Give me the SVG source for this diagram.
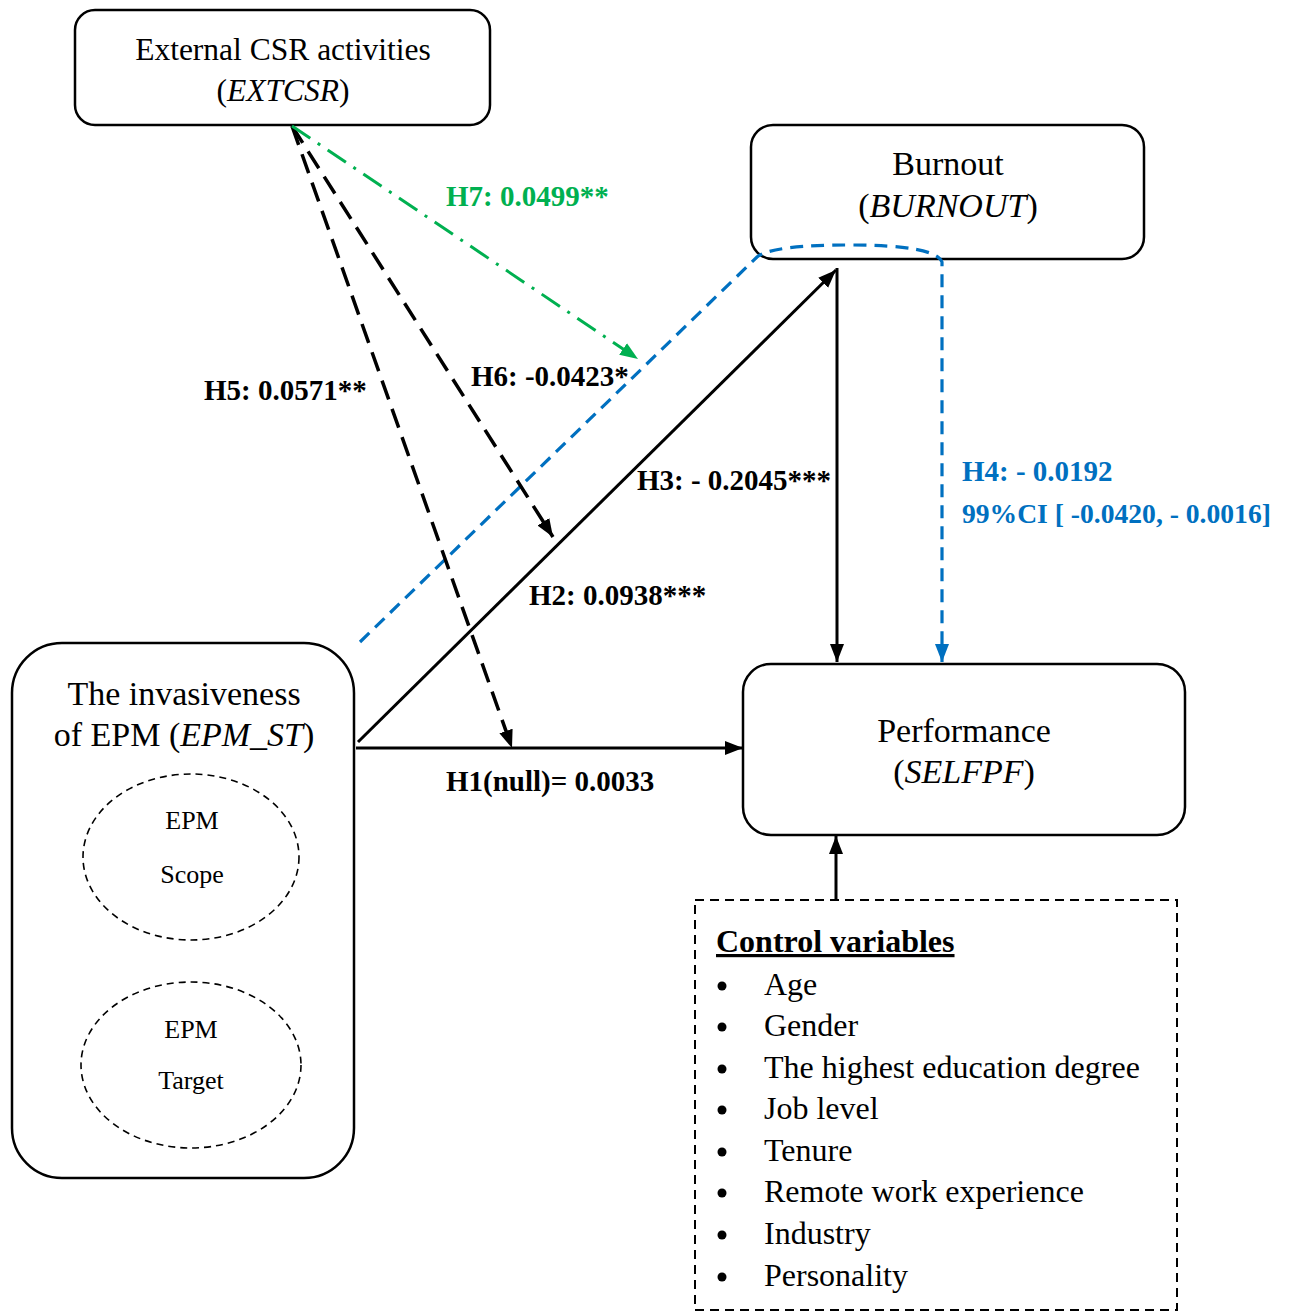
<svg xmlns="http://www.w3.org/2000/svg" width="1291" height="1313" viewBox="0 0 1291 1313">
  <style>
    .box { fill: #ffffff; stroke: #000000; stroke-width: 2.5; }
    .node-text { font-family: "Liberation Serif", "Times New Roman", serif; font-size: 34px; fill: #000000; text-anchor: middle; }
    .node-text.small { font-size: 31.5px; }
    .sub-text { font-family: "Liberation Serif", "Times New Roman", serif; font-size: 26px; fill: #000000; text-anchor: middle; }
    .dim { fill: none; stroke: #000000; stroke-width: 1.6; stroke-dasharray: 7 5; }
    .label { font-family: "Liberation Serif", "Times New Roman", serif; font-size: 29px; font-weight: bold; fill: #000000; }
    .label.ci { font-size: 27.6px; }
    .green { fill: #00B050; }
    .blue { fill: #0070C0; }
    .solid { fill: none; stroke: #000000; stroke-width: 3; }
    .dashed { fill: none; stroke: #000000; stroke-width: 3.5; stroke-dasharray: 20 10; }
    .dashdot { fill: none; stroke: #00B050; stroke-width: 3; stroke-dasharray: 22 9 3 9; }
    .bluedash { fill: none; stroke: #0070C0; stroke-width: 3.2; stroke-dasharray: 13 8; }
    .ctrl { font-family: "Liberation Serif", "Times New Roman", serif; font-size: 32px; fill: #000000; }
  </style>
  <defs>
    <marker id="arrow-black" markerUnits="userSpaceOnUse" markerWidth="20" markerHeight="16" refX="18" refY="7" orient="auto">
      <path d="M0,0 L18,7 L0,14 Z" fill="#000000"/>
    </marker>
    <marker id="arrow-green" markerUnits="userSpaceOnUse" markerWidth="20" markerHeight="16" refX="18" refY="7" orient="auto">
      <path d="M0,0 L18,7 L0,14 Z" fill="#00B050"/>
    </marker>
    <marker id="arrow-blue" markerUnits="userSpaceOnUse" markerWidth="20" markerHeight="16" refX="18" refY="7" orient="auto">
      <path d="M0,0 L18,7 L0,14 Z" fill="#0070C0"/>
    </marker>
  </defs>

  <rect width="1291" height="1313" fill="#ffffff"/>

  <!-- External CSR activities -->
  <g id="node-extcsr">
    <rect class="box" x="75" y="10" width="415" height="115" rx="20"/>
    <text class="node-text small" x="283" y="60">External CSR activities</text>
    <text class="node-text small" x="283" y="101">(<tspan font-style="italic">EXTCSR</tspan>)</text>
  </g>

  <!-- Burnout -->
  <g id="node-burnout">
    <rect class="box" x="751" y="125" width="393" height="134" rx="22"/>
    <text class="node-text" x="948" y="175">Burnout</text>
    <text class="node-text" x="948" y="217">(<tspan font-style="italic">BURNOUT</tspan>)</text>
  </g>

  <!-- Performance -->
  <g id="node-performance">
    <rect class="box" x="743" y="664" width="442" height="171" rx="28"/>
    <text class="node-text" x="964" y="742">Performance</text>
    <text class="node-text" x="964" y="783">(<tspan font-style="italic">SELFPF</tspan>)</text>
  </g>

  <!-- Invasiveness of EPM with its two dimensions -->
  <g id="node-epm">
    <rect class="box" x="12" y="643" width="342" height="535" rx="50"/>
    <text class="node-text" x="184" y="705">The invasiveness</text>
    <text class="node-text" x="184" y="746">of EPM (<tspan font-style="italic">EPM_ST</tspan>)</text>
    <ellipse class="dim" cx="191" cy="857" rx="108" ry="83"/>
    <text class="sub-text" x="192" y="829">EPM</text>
    <text class="sub-text" x="192" y="883">Scope</text>
    <ellipse class="dim" cx="191" cy="1065" rx="110" ry="83"/>
    <text class="sub-text" x="191" y="1038">EPM</text>
    <text class="sub-text" x="191" y="1089">Target</text>
  </g>

  <!-- Control variables -->
  <g id="node-controls">
    <rect x="695" y="900" width="482" height="410" fill="none" stroke="#000000" stroke-width="2" stroke-dasharray="9 6"/>
    <text class="ctrl" x="716" y="952" font-weight="bold" text-decoration="underline">Control variables</text>
    <g fill="#000000">
      <circle cx="722" cy="986" r="4.5"/>
      <circle cx="722" cy="1027" r="4.5"/>
      <circle cx="722" cy="1069" r="4.5"/>
      <circle cx="722" cy="1110" r="4.5"/>
      <circle cx="722" cy="1152" r="4.5"/>
      <circle cx="722" cy="1193" r="4.5"/>
      <circle cx="722" cy="1235" r="4.5"/>
      <circle cx="722" cy="1277" r="4.5"/>
    </g>
    <text class="ctrl" x="764" y="995">Age</text>
    <text class="ctrl" x="764" y="1036">Gender</text>
    <text class="ctrl" x="764" y="1078">The highest education degree</text>
    <text class="ctrl" x="764" y="1119">Job level</text>
    <text class="ctrl" x="764" y="1161">Tenure</text>
    <text class="ctrl" x="764" y="1202">Remote work experience</text>
    <text class="ctrl" x="764" y="1244">Industry</text>
    <text class="ctrl" x="764" y="1286">Personality</text>
  </g>

  <!-- Paths between constructs -->
  <g id="connectors">
    <!-- indirect effect via burnout (H4) -->
    <path class="bluedash" d="M360,642 L757,257 Q772,245 850,245 Q935,245 942,262 L942,662" marker-end="url(#arrow-blue)"/>
    <!-- H1 direct effect -->
    <line class="solid" x1="356" y1="748" x2="743" y2="748" marker-end="url(#arrow-black)"/>
    <!-- H2 EPM to burnout -->
    <line class="solid" x1="358" y1="742" x2="836" y2="270" marker-end="url(#arrow-black)"/>
    <!-- H3 burnout to performance -->
    <line class="solid" x1="837" y1="268" x2="837" y2="662" marker-end="url(#arrow-black)"/>
    <!-- controls to performance -->
    <line class="solid" x1="836" y1="900" x2="836" y2="836" marker-end="url(#arrow-black)"/>
    <!-- moderation paths from external CSR -->
    <line class="dashed" x1="292" y1="126" x2="512" y2="748" marker-end="url(#arrow-black)"/>
    <line class="dashed" x1="292" y1="126" x2="553" y2="537" marker-end="url(#arrow-black)"/>
    <line class="dashdot" x1="292" y1="126" x2="638" y2="359" marker-end="url(#arrow-green)"/>
  </g>

  <!-- Path coefficients -->
  <g id="labels">
    <text class="label green" x="446" y="206">H7: 0.0499**</text>
    <text class="label" x="471" y="386">H6: -0.0423*</text>
    <text class="label" x="204" y="400">H5: 0.0571**</text>
    <text class="label" x="637" y="490">H3: - 0.2045***</text>
    <text class="label" x="529" y="605">H2: 0.0938***</text>
    <text class="label" x="446" y="791">H1(null)= 0.0033</text>
    <text class="label blue" x="962" y="481">H4: - 0.0192</text>
    <text class="label blue ci" x="962" y="523">99%CI [ -0.0420, - 0.0016]</text>
  </g>
</svg>
